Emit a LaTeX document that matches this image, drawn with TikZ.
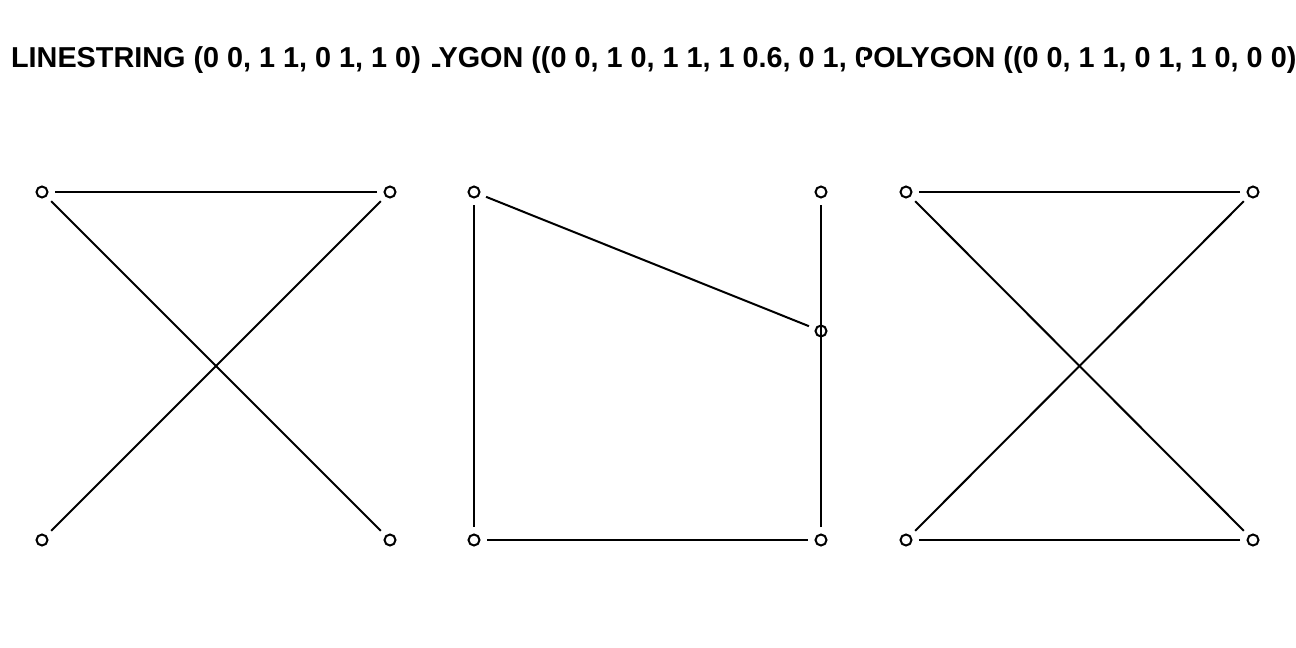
\documentclass[tikz,border=0pt]{standalone}
\usepackage{fontspec}
\setmainfont{Liberation Sans}
\usepackage{tikz}
\tikzset{pt/.style={circle, draw, line width=1bp, minimum size=5.5bp, inner sep=0, outer sep=3.75bp},
         edge/.style={line width=1bp},
         title/.style={anchor=base, font=\fontsize{14.4bp}{17bp}\selectfont\bfseries}}

\begin{document}
\begin{tikzpicture}[x=0.5bp, y=-0.5bp]

  \useasboundingbox [fill=white] (0, 0) rectangle (1296, 648);

  \begin{scope}
    \clip (0, 0) rectangle (432, 120);
    \node [title] (t1) at (216, 67) {LINESTRING (0 0, 1 1, 0 1, 1 0)};
  \end{scope}
  \begin{scope}
    \clip (432, 0) rectangle (864, 120);
    \node [title] (t2) at (648, 67) {POLYGON ((0 0, 1 0, 1 1, 1 0.6, 0 1, 0 0))};
  \end{scope}
  \begin{scope}
    \clip (864, 0) rectangle (1296, 120);
    \node [title] (t3) at (1080, 67) {POLYGON ((0 0, 1 1, 0 1, 1 0, 0 0))};
  \end{scope}

  %
  \node [pt] (l00) at (42, 540) {};
  \node [pt] (l11) at (390, 192) {};
  \node [pt] (l01) at (42, 192) {};
  \node [pt] (l10) at (390, 540) {};

  \draw [edge] (l00) -- (l11);
  \draw [edge] (l11) -- (l01);
  \draw [edge] (l01) -- (l10);

  %
  \node [pt] (m00) at (474, 540) {};
  \node [pt] (m10) at (821, 540) {};
  \node [pt] (m11) at (821, 192) {};
  \node [pt] (m16) at (821, 331) {};
  \node [pt] (m01) at (474, 192) {};

  \draw [edge] (m00) -- (m10);
  \draw [edge] (m10) -- (m11);
  \draw [edge] (m11) -- (m16);
  \draw [edge] (m16) -- (m01);
  \draw [edge] (m01) -- (m00);

  %
  \node [pt] (r00) at (906, 540) {};
  \node [pt] (r11) at (1253, 192) {};
  \node [pt] (r01) at (906, 192) {};
  \node [pt] (r10) at (1253, 540) {};

  \draw [edge] (r00) -- (r11);
  \draw [edge] (r11) -- (r01);
  \draw [edge] (r01) -- (r10);
  \draw [edge] (r10) -- (r00);

\end{tikzpicture}
\end{document}
